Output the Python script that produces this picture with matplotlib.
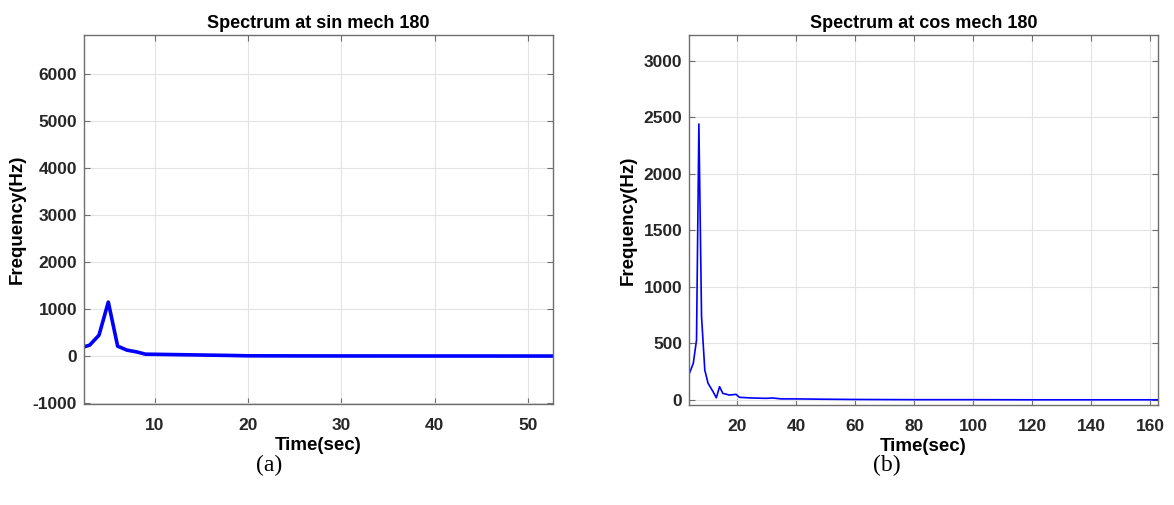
import matplotlib.pyplot as plt
import numpy as np

# spectrum (a): sin mech 180
sin_t = [2.4, 3, 4, 5, 6, 7, 8, 9, 10, 12, 14, 16, 18, 20, 25, 30, 40, 52.7]
sin_f = [197, 233, 445, 1150, 212, 127, 91, 40, 38, 32, 26, 20, 14, 6, 4, 3, 2, 1]

# spectrum (b): cos mech 180
cos_t = [3.8, 5.2, 6.3, 7.1, 8.0, 9.1, 10.2, 11.9, 13.0, 14.1, 15.2, 17.4, 19.7, 20.8,
         25, 30, 32, 35, 40, 50, 60, 80, 100, 120, 140, 162.4]
cos_f = [230, 324, 530, 2440, 737, 265, 148, 74, 20, 118, 59, 44, 50, 24,
         18, 15, 18, 10, 10, 7, 5, 3, 3, 2, 2, 2]

plt.rcParams['font.family'] = ['Liberation Sans', 'DejaVu Sans']
plt.rcParams['axes.unicode_minus'] = False

fig = plt.figure(figsize=(11.74, 5.05), dpi=100)
ax1 = fig.add_axes([0.0716, 0.2, 0.3995, 0.731])
ax2 = fig.add_axes([0.587, 0.198, 0.399, 0.733])


def style(ax):
    ax.grid(True, color='#e3e3e3', linewidth=0.8)
    ax.set_axisbelow(True)
    for s in ax.spines.values():
        s.set_color('#6e6e6e')
        s.set_linewidth(1.0)
    ax.tick_params(direction='in', top=True, right=True, length=4,
                   color='#6e6e6e', labelsize=12.5, labelcolor='#262626')
    ax.tick_params(axis='x', pad=10)
    ax.tick_params(axis='y', pad=5)
    for lbl in ax.get_xticklabels() + ax.get_yticklabels():
        lbl.set_fontweight('bold')


ax1.plot(sin_t, sin_f, color='#0000ff', linewidth=2.6)
ax1.set_xlim(2.4, 52.7)
ax1.set_ylim(-1020, 6840)
ax1.set_xticks([10, 20, 30, 40, 50])
ax1.set_yticks(np.arange(-1000, 6001, 1000))
ax1.set_xlabel('Time(sec)', fontsize=13.5, fontweight='bold', labelpad=3)
ax1.set_ylabel('Frequency(Hz)', fontsize=13.5, fontweight='bold', labelpad=5)
ax1.set_title('Spectrum at sin mech 180', fontsize=13, fontweight='bold', pad=5)
style(ax1)

ax2.plot(cos_t, cos_f, color='#0000ff', linewidth=1.2)
ax2.set_xlim(3.8, 162.4)
ax2.set_ylim(-44, 3228)
ax2.set_xticks(np.arange(20, 161, 20))
ax2.set_yticks(np.arange(0, 3001, 500))
ax2.set_xlabel('Time(sec)', fontsize=13.5, fontweight='bold', labelpad=3)
ax2.set_ylabel('Frequency(Hz)', fontsize=13.5, fontweight='bold', labelpad=5)
ax2.set_title('Spectrum at cos mech 180', fontsize=13, fontweight='bold', pad=5)
style(ax2)

fig.text(269 / 1174, 1 - 465 / 505, '(a)', ha='center', va='center',
         fontsize=17, family='Liberation Serif')
fig.text(887 / 1174, 1 - 465 / 505, '(b)', ha='center', va='center',
         fontsize=17, family='Liberation Serif')

fig.savefig('out.png', dpi=100)
